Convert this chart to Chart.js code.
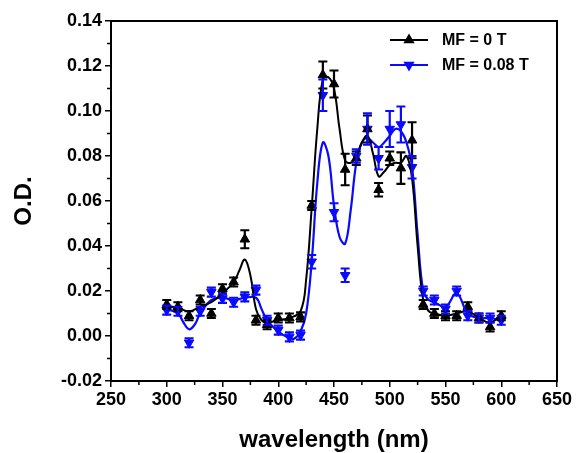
<!DOCTYPE html>
<html><head><meta charset="utf-8">
<script src="https://cdn.jsdelivr.net/npm/chart.js@4/dist/chart.umd.min.js"></script>
<style>html,body{margin:0;padding:0;background:#fff}#wrap{width:576px;height:453px}</style>
</head><body><div id="wrap"><canvas id="c" width="576" height="453"></canvas></div>
<script>
const wavelengths = [300,310,320,330,340,350,360,370,380,390,400,410,420,430,440,450,460,470,480,490,500,510,520,530,540,550,560,570,580,590,600];
const od0T = [0.014,0.013,0.009,0.016,0.010,0.021,0.024,0.043,0.007,0.005,0.008,0.008,0.0085,0.058,0.116,0.112,0.074,0.079,0.092,0.065,0.079,0.0746,0.087,0.014,0.010,0.009,0.009,0.013,0.008,0.004,0.009];
const err0T = [0.002,0.002,0.002,0.002,0.002,0.002,0.002,0.004,0.002,0.002,0.002,0.002,0.002,0.002,0.006,0.006,0.007,0.003,0.006,0.003,0.003,0.007,0.008,0.002,0.002,0.002,0.002,0.002,0.002,0.002,0.002];
const od008T = [0.0115,0.011,-0.003,0.011,0.0195,0.0167,0.015,0.0174,0.0204,0.007,0.0026,-0.0004,0.0004,0.033,0.107,0.055,0.027,0.080,0.092,0.079,0.092,0.094,0.075,0.020,0.016,0.012,0.020,0.009,0.008,0.008,0.007];
const err008T = [0.002,0.002,0.002,0.002,0.002,0.002,0.002,0.002,0.002,0.002,0.002,0.002,0.002,0.003,0.007,0.004,0.003,0.003,0.007,0.005,0.008,0.008,0.005,0.002,0.002,0.002,0.002,0.002,0.002,0.002,0.002];

const fitX0 = [300,310,320,330,340,350,360,365,370,375,380,385,390,400,410,420,425,430,435,440,445,450,455,460,465,470,475,480,485,490,495,500,505,510,515,520,525,530,535,540,550,560,570,580,590,600];
const fitY0 = [0.0135,0.0125,0.011,0.013,0.015,0.019,0.024,0.029,0.034,0.027,0.012,0.007,0.006,0.007,0.008,0.011,0.025,0.057,0.092,0.114,0.115,0.110,0.092,0.078,0.077,0.080,0.086,0.089,0.081,0.071,0.073,0.076,0.077,0.077,0.080,0.070,0.040,0.016,0.011,0.010,0.009,0.010,0.011,0.008,0.006,0.009];
const fitX008 = [300,310,315,320,325,330,340,350,360,370,380,385,390,400,410,415,420,425,430,435,440,445,450,455,460,465,470,475,480,485,490,495,500,505,510,515,520,525,530,535,540,550,560,570,580,590,600];
const fitY008 = [0.012,0.010,0.006,0.003,0.005,0.010,0.016,0.017,0.016,0.017,0.017,0.012,0.007,0.002,-0.001,-0.001,0.002,0.010,0.033,0.068,0.086,0.080,0.058,0.044,0.041,0.056,0.077,0.086,0.088,0.086,0.084,0.086,0.089,0.092,0.091,0.086,0.075,0.045,0.020,0.016,0.015,0.013,0.019,0.010,0.008,0.008,0.007];

const xTicksMajor = [250,300,350,400,450,500,550,600,650];
const yTicksMajor = [-0.02,0,0.02,0.04,0.06,0.08,0.10,0.12,0.14];

const BLACK = '#000000', BLUE = '#0a0aff';
const FONT = '"Liberation Sans", Arial, sans-serif';

const pts = (xs, ys) => xs.map((x, i) => ({x, y: ys[i]}));

const errorBars = {
  id: 'errorBars',
  afterDatasetsDraw(chart) {
    const ctx = chart.ctx, xs = chart.scales.x, ys = chart.scales.y;
    chart.data.datasets.forEach((ds) => {
      if (!ds.errors) return;
      ctx.save();
      ctx.strokeStyle = ds.borderColor; ctx.lineWidth = 2.2;
      ds.data.forEach((p, i) => {
        const px = xs.getPixelForValue(p.x);
        const t = ys.getPixelForValue(p.y + ds.errors[i]);
        const b = ys.getPixelForValue(p.y - ds.errors[i]);
        ctx.beginPath();
        ctx.moveTo(px, t); ctx.lineTo(px, b);
        ctx.moveTo(px - 4.5, t); ctx.lineTo(px + 4.5, t);
        ctx.moveTo(px - 4.5, b); ctx.lineTo(px + 4.5, b);
        ctx.stroke();
      });
      ctx.restore();
    });
  }
};

const frame = {
  id: 'frame',
  afterDraw(chart) {
    const ctx = chart.ctx, a = chart.chartArea, xs = chart.scales.x, ys = chart.scales.y;
    ctx.save();
    ctx.strokeStyle = '#000'; ctx.lineWidth = 2;
    ctx.strokeRect(a.left, a.top, a.right - a.left, a.bottom - a.top);
    ctx.lineWidth = 1.5;
    ctx.beginPath();
    for (let v = 275; v < 650; v += 50) {
      const px = xs.getPixelForValue(v);
      ctx.moveTo(px, a.bottom); ctx.lineTo(px, a.bottom + 4);
    }
    for (let v = -0.01; v < 0.14; v += 0.02) {
      const py = ys.getPixelForValue(v);
      ctx.moveTo(a.left, py); ctx.lineTo(a.left - 4, py);
    }
    ctx.stroke();
    const rows = [
      {label: 'MF = 0 T', color: BLACK, rot: 0, y: 40},
      {label: 'MF = 0.08 T', color: BLUE, rot: 180, y: 65}
    ];
    rows.forEach(r => {
      ctx.strokeStyle = r.color; ctx.lineWidth = 2;
      ctx.beginPath(); ctx.moveTo(390, r.y); ctx.lineTo(428, r.y); ctx.stroke();
      ctx.fillStyle = r.color;
      Chart.helpers.drawPoint(ctx, {pointStyle: 'triangle', radius: 4.5, rotation: r.rot, borderWidth: 1}, 409, r.y);
      ctx.fill();
      ctx.fillStyle = '#000';
      ctx.font = 'bold 16px ' + FONT;
      ctx.textBaseline = 'middle'; ctx.textAlign = 'left';
      ctx.fillText(r.label, 442, r.y + 1);
    });
    ctx.restore();
  }
};

new Chart(document.getElementById('c'), {
  type: 'scatter',
  data: {
    datasets: [
      {label: 'fit0', data: pts(fitX0, fitY0), showLine: true, borderColor: BLACK, borderWidth: 2, pointRadius: 0, tension: 0.4, fill: false},
      {label: 'fit008', data: pts(fitX008, fitY008), showLine: true, borderColor: BLUE, borderWidth: 2.2, pointRadius: 0, tension: 0.4, fill: false},
      {label: 'MF = 0 T', data: pts(wavelengths, od0T), errors: err0T, showLine: false, borderColor: BLACK, backgroundColor: BLACK, pointStyle: 'triangle', pointRadius: 5.5, pointRotation: 0, borderWidth: 1},
      {label: 'MF = 0.08 T', data: pts(wavelengths, od008T), errors: err008T, showLine: false, borderColor: BLUE, backgroundColor: BLUE, pointStyle: 'triangle', pointRadius: 5.5, pointRotation: 180, borderWidth: 1}
    ]
  },
  options: {
    responsive: false,
    animation: false,
    devicePixelRatio: 1,
    layout: {padding: {left: 0, right: 19, top: 21, bottom: 0}},
    plugins: {legend: {display: false}, tooltip: {enabled: false}},
    scales: {
      x: {
        type: 'linear', min: 250, max: 650,
        afterBuildTicks: s => { s.ticks = xTicksMajor.map(v => ({value: v})); },
        afterFit: s => { s.height = 72; },
        grid: {drawOnChartArea: false, drawTicks: true, tickLength: 6, color: '#000', lineWidth: 1.5},
        border: {display: true, color: '#000', width: 2},
        ticks: {color: '#000', font: {family: FONT, size: 18, weight: 'bold'}, padding: 2, maxRotation: 0,
                callback: v => String(v)},
        title: {display: true, text: 'wavelength (nm)', color: '#000', font: {family: FONT, size: 24, weight: 'bold'}, padding: {top: 0, bottom: -2}}
      },
      y: {
        type: 'linear', min: -0.02, max: 0.14,
        afterBuildTicks: s => { s.ticks = yTicksMajor.map(v => ({value: v})); },
        afterFit: s => { s.width = 111; },
        grid: {drawOnChartArea: false, drawTicks: true, tickLength: 6, color: '#000', lineWidth: 1.5},
        border: {display: true, color: '#000', width: 2},
        ticks: {color: '#000', font: {family: FONT, size: 18, weight: 'bold'}, padding: 3,
                callback: v => v.toFixed(2)},
        title: {display: true, text: 'O.D.', color: '#000', font: {family: FONT, size: 24, weight: 'bold'}, padding: {top: 10, bottom: 0}}
      }
    }
  },
  plugins: [errorBars, frame]
});
</script>
</body></html>
